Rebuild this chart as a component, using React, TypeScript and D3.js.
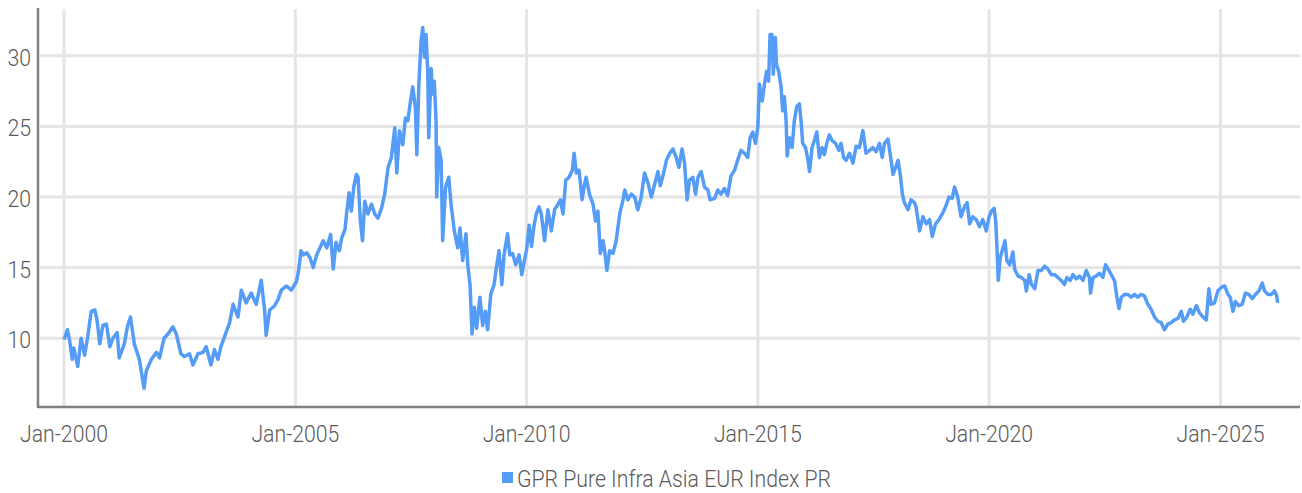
import React from 'react';
import * as d3 from 'd3';

type Pt = [string, number];

// index level, grouped by period
const data2000to2004: Pt[] = [
  ['2000-01-01', 9.9], ['2000-01-28', 10.6], ['2000-02-15', 9.8], ['2000-03-06', 8.5], ['2000-03-18', 9.3],
  ['2000-04-18', 8.0], ['2000-05-15', 10.0], ['2000-06-12', 8.8], ['2000-07-06', 10.1], ['2000-08-03', 11.9],
  ['2000-09-01', 12.0], ['2000-09-21', 11.1], ['2000-10-09', 9.6], ['2000-11-03', 10.9], ['2000-12-01', 11.0],
  ['2000-12-28', 9.4], ['2001-01-21', 10.0], ['2001-02-24', 10.4], ['2001-03-12', 8.6], ['2001-04-21', 9.6],
  ['2001-05-18', 10.9], ['2001-06-09', 11.5], ['2001-07-09', 9.6], ['2001-08-18', 8.5], ['2001-09-24', 6.45],
  ['2001-10-12', 7.7], ['2001-11-21', 8.5], ['2002-01-01', 9.0], ['2002-01-25', 8.6], ['2002-03-01', 10.0],
  ['2002-04-01', 10.3], ['2002-05-09', 10.8], ['2002-06-06', 10.3], ['2002-07-12', 8.9], ['2002-08-09', 8.7],
  ['2002-09-18', 8.9], ['2002-10-15', 8.1], ['2002-11-24', 8.9], ['2003-01-03', 9.0], ['2003-01-28', 9.4],
  ['2003-03-06', 8.1], ['2003-04-03', 9.2], ['2003-05-01', 8.5], ['2003-05-24', 9.4], ['2003-06-21', 10.1],
  ['2003-08-01', 11.1], ['2003-08-28', 12.4], ['2003-10-06', 11.5], ['2003-11-01', 13.4], ['2003-12-09', 12.5],
  ['2004-01-18', 13.2], ['2004-02-27', 12.4], ['2004-04-06', 14.1], ['2004-05-03', 12.0], ['2004-05-15', 10.2],
  ['2004-06-12', 12.0], ['2004-07-21', 12.3], ['2004-08-15', 12.7], ['2004-09-12', 13.4], ['2004-10-21', 13.7],
  ['2004-12-01', 13.4], ['2005-01-09', 14.0],
];

const data2005to2009: Pt[] = [
  ['2005-01-26', 14.75], ['2005-02-14', 16.2], ['2005-03-05', 15.9], ['2005-04-01', 16.05], ['2005-04-26', 15.7],
  ['2005-05-22', 15.0], ['2005-06-18', 15.9], ['2005-07-14', 16.4], ['2005-08-09', 16.9], ['2005-09-06', 16.4],
  ['2005-10-06', 17.35], ['2005-10-27', 14.9], ['2005-11-18', 16.8], ['2005-12-14', 16.2], ['2006-01-02', 17.1],
  ['2006-01-28', 17.7], ['2006-02-09', 18.8], ['2006-03-01', 20.3], ['2006-03-19', 19.0], ['2006-04-07', 20.7],
  ['2006-04-28', 21.6], ['2006-05-11', 21.4], ['2006-05-29', 18.3], ['2006-06-15', 16.9], ['2006-07-03', 19.7],
  ['2006-07-28', 18.8], ['2006-08-25', 19.5], ['2006-09-20', 18.8], ['2006-10-15', 18.5], ['2006-11-12', 19.2],
  ['2006-12-07', 20.2], ['2007-01-03', 22.1], ['2007-01-29', 22.8], ['2007-02-25', 24.9], ['2007-03-13', 21.7],
  ['2007-04-03', 24.7], ['2007-04-29', 23.7], ['2007-05-20', 25.6], ['2007-06-08', 25.4], ['2007-06-26', 26.6],
  ['2007-07-17', 27.8], ['2007-08-07', 26.3], ['2007-08-18', 23.0], ['2007-09-03', 28.0], ['2007-09-21', 31.1],
  ['2007-10-04', 32.0], ['2007-10-17', 29.9], ['2007-10-30', 31.5], ['2007-11-12', 28.9], ['2007-11-20', 24.2],
  ['2007-12-09', 29.1], ['2007-12-21', 27.3], ['2008-01-03', 28.2], ['2008-01-17', 25.4], ['2008-01-22', 20.0],
  ['2008-02-07', 23.5], ['2008-02-26', 22.6], ['2008-03-09', 16.9], ['2008-04-01', 20.7], ['2008-04-26', 21.4],
  ['2008-05-14', 19.5], ['2008-06-09', 17.6], ['2008-07-06', 16.4], ['2008-07-24', 17.8], ['2008-08-14', 15.5],
  ['2008-09-09', 17.4], ['2008-09-23', 15.2], ['2008-10-11', 13.8], ['2008-10-27', 10.3], ['2008-11-14', 12.2],
  ['2008-12-02', 10.7], ['2008-12-28', 12.9], ['2009-01-19', 10.9], ['2009-02-09', 11.9], ['2009-02-27', 10.6],
  ['2009-03-24', 13.1], ['2009-04-19', 13.8], ['2009-05-07', 15.0], ['2009-05-28', 16.2], ['2009-06-19', 13.8],
  ['2009-07-07', 15.9], ['2009-08-03', 17.4], ['2009-08-21', 15.9], ['2009-09-12', 16.0], ['2009-10-07', 15.2],
  ['2009-11-03', 15.9], ['2009-11-24', 14.5], ['2009-12-12', 15.4],
];

const data2010to2014: Pt[] = [
  ['2010-01-01', 16.3], ['2010-01-21', 18.0], ['2010-02-09', 16.5], ['2010-02-27', 17.9], ['2010-03-18', 18.8],
  ['2010-04-09', 19.3], ['2010-04-27', 18.8], ['2010-05-23', 16.9], ['2010-06-18', 19.1], ['2010-07-15', 17.6],
  ['2010-08-10', 19.1], ['2010-09-06', 19.5], ['2010-09-25', 19.8], ['2010-10-15', 18.8], ['2010-11-06', 21.2],
  ['2010-12-02', 21.4], ['2010-12-28', 21.9], ['2011-01-11', 23.1], ['2011-01-29', 21.7], ['2011-02-19', 21.9],
  ['2011-03-15', 19.8], ['2011-04-03', 20.9], ['2011-04-16', 21.4], ['2011-05-12', 20.2], ['2011-06-09', 19.5],
  ['2011-06-29', 18.3], ['2011-07-18', 19.0], ['2011-08-06', 16.0], ['2011-08-27', 16.9], ['2011-09-09', 16.2],
  ['2011-09-27', 14.8], ['2011-10-18', 16.2], ['2011-11-14', 16.0], ['2011-12-09', 16.9], ['2012-01-06', 18.8],
  ['2012-02-01', 19.8], ['2012-02-15', 20.5], ['2012-03-10', 19.8], ['2012-04-06', 20.2], ['2012-05-03', 20.0],
  ['2012-05-28', 19.1], ['2012-06-24', 20.0], ['2012-07-20', 21.7], ['2012-08-16', 21.0], ['2012-09-12', 20.0],
  ['2012-10-08', 20.9], ['2012-11-03', 21.8], ['2012-11-21', 20.8], ['2012-12-18', 21.7], ['2013-01-09', 22.6],
  ['2013-02-04', 23.1], ['2013-03-01', 23.4], ['2013-03-27', 22.8], ['2013-04-17', 22.1], ['2013-05-12', 23.4],
  ['2013-06-01', 22.4], ['2013-06-21', 19.8], ['2013-07-10', 21.2], ['2013-08-06', 21.4], ['2013-08-27', 20.2],
  ['2013-09-15', 21.4], ['2013-10-10', 21.8], ['2013-11-06', 20.7], ['2013-12-02', 20.5], ['2013-12-20', 19.8],
  ['2014-01-24', 19.9], ['2014-02-19', 20.5], ['2014-03-16', 20.2], ['2014-04-12', 20.6], ['2014-05-07', 20.1],
  ['2014-06-03', 21.5], ['2014-07-01', 21.9], ['2014-07-25', 22.6], ['2014-08-21', 23.3], ['2014-09-17', 23.1],
  ['2014-10-13', 22.8], ['2014-11-01', 24.2], ['2014-11-22', 24.6], ['2014-12-13', 23.8], ['2015-01-01', 25.0],
];

const data2015to2019: Pt[] = [
  ['2015-01-13', 28.0], ['2015-02-04', 26.8], ['2015-02-22', 28.0], ['2015-03-11', 28.9], ['2015-03-27', 28.2],
  ['2015-04-07', 31.5], ['2015-04-22', 31.5], ['2015-05-03', 28.7], ['2015-05-19', 31.3], ['2015-05-28', 29.4],
  ['2015-06-14', 28.9], ['2015-07-03', 27.8], ['2015-07-16', 26.1], ['2015-07-29', 27.1], ['2015-08-12', 25.4],
  ['2015-08-20', 22.9], ['2015-09-07', 24.2], ['2015-09-28', 23.5], ['2015-10-16', 25.4], ['2015-11-04', 26.4],
  ['2015-11-25', 26.6], ['2015-12-08', 25.4], ['2015-12-21', 23.8], ['2016-01-12', 23.5], ['2016-02-01', 22.6],
  ['2016-02-13', 21.8], ['2016-03-04', 23.5], ['2016-03-22', 24.0], ['2016-04-10', 24.6], ['2016-05-01', 22.8],
  ['2016-05-22', 23.5], ['2016-06-09', 23.0], ['2016-06-28', 23.8], ['2016-07-19', 24.4], ['2016-08-09', 24.0],
  ['2016-09-06', 23.8], ['2016-10-01', 23.3], ['2016-10-19', 23.8], ['2016-11-08', 22.8], ['2016-11-28', 22.6],
  ['2016-12-25', 23.1], ['2017-01-21', 22.4], ['2017-02-15', 23.6], ['2017-03-13', 23.5], ['2017-04-09', 24.7],
  ['2017-05-04', 23.1], ['2017-06-01', 23.3], ['2017-06-27', 23.5], ['2017-07-22', 23.2], ['2017-08-18', 23.8],
  ['2017-09-09', 22.8], ['2017-09-27', 23.8], ['2017-10-24', 24.1], ['2017-11-18', 22.6], ['2017-12-03', 21.6],
  ['2017-12-24', 22.1], ['2018-01-12', 22.6], ['2018-02-01', 21.4], ['2018-02-15', 20.2], ['2018-03-03', 19.6],
  ['2018-04-01', 19.1], ['2018-04-25', 19.8], ['2018-05-21', 19.6], ['2018-06-03', 19.3], ['2018-07-01', 17.6],
  ['2018-07-27', 18.6], ['2018-08-22', 18.1], ['2018-09-18', 18.4], ['2018-10-09', 17.2], ['2018-11-04', 18.1],
  ['2018-12-01', 18.4], ['2018-12-27', 18.8], ['2019-01-22', 19.3], ['2019-02-18', 20.0], ['2019-03-15', 19.9],
  ['2019-04-03', 20.7], ['2019-04-28', 20.0], ['2019-05-24', 18.6], ['2019-06-20', 19.3], ['2019-07-11', 19.6],
  ['2019-07-31', 18.1], ['2019-08-25', 18.6], ['2019-09-21', 18.4], ['2019-10-17', 17.9], ['2019-11-12', 18.4],
  ['2019-12-09', 17.6], ['2020-01-01', 18.6],
];

const data2020to2026: Pt[] = [
  ['2020-01-19', 19.0], ['2020-02-09', 19.2], ['2020-02-22', 18.3], ['2020-03-03', 16.4], ['2020-03-13', 14.1],
  ['2020-03-29', 15.7], ['2020-04-19', 16.4], ['2020-05-05', 16.9], ['2020-05-20', 15.5], ['2020-06-11', 15.2],
  ['2020-07-07', 16.1], ['2020-07-20', 14.9], ['2020-08-16', 14.4], ['2020-09-12', 14.3], ['2020-10-08', 14.1],
  ['2020-10-21', 13.35], ['2020-11-12', 14.5], ['2020-12-01', 13.8], ['2020-12-26', 13.5], ['2021-01-21', 14.8],
  ['2021-02-17', 14.8], ['2021-03-13', 15.1], ['2021-04-09', 14.9], ['2021-05-06', 14.5], ['2021-06-01', 14.5],
  ['2021-06-27', 14.3], ['2021-07-23', 14.1], ['2021-08-18', 13.8], ['2021-09-06', 14.3], ['2021-10-03', 14.1],
  ['2021-10-24', 14.5], ['2021-11-19', 14.2], ['2021-12-15', 14.4], ['2022-01-12', 14.1], ['2022-02-06', 14.8],
  ['2022-03-03', 14.3], ['2022-03-12', 13.2], ['2022-04-01', 14.3], ['2022-04-25', 14.4], ['2022-05-21', 14.6],
  ['2022-06-17', 14.3], ['2022-07-08', 15.2], ['2022-08-04', 14.8], ['2022-08-22', 14.5], ['2022-09-18', 14.05],
  ['2022-10-06', 12.9], ['2022-10-22', 12.1], ['2022-11-10', 12.9], ['2022-12-06', 13.1], ['2023-01-01', 13.1],
  ['2023-01-28', 12.9], ['2023-02-23', 13.1], ['2023-03-19', 12.9], ['2023-04-15', 13.1], ['2023-05-11', 13.0],
  ['2023-06-07', 12.4], ['2023-07-03', 12.05], ['2023-07-30', 11.5], ['2023-08-25', 11.2], ['2023-09-21', 11.1],
  ['2023-10-16', 10.6], ['2023-11-12', 11.0], ['2023-12-08', 11.1], ['2024-01-04', 11.3], ['2024-01-31', 11.4],
  ['2024-02-27', 11.9], ['2024-03-15', 11.2], ['2024-04-10', 11.5], ['2024-05-07', 12.05], ['2024-05-28', 11.7],
  ['2024-06-24', 12.3], ['2024-07-19', 11.8], ['2024-08-15', 11.5], ['2024-09-11', 11.3], ['2024-10-01', 13.5],
  ['2024-10-19', 12.4], ['2024-11-15', 12.5], ['2024-12-11', 13.35], ['2025-01-07', 13.6], ['2025-02-03', 13.7],
  ['2025-03-01', 13.1], ['2025-03-19', 12.9], ['2025-04-09', 11.9], ['2025-04-29', 12.6], ['2025-05-25', 12.3],
  ['2025-06-21', 12.4], ['2025-07-17', 13.2], ['2025-08-13', 13.1], ['2025-09-09', 12.8], ['2025-10-04', 13.1],
  ['2025-10-31', 13.35], ['2025-11-27', 13.9], ['2025-12-15', 13.35], ['2026-01-10', 13.1], ['2026-02-06', 13.1],
  ['2026-03-03', 13.35], ['2026-03-21', 13.0], ['2026-03-28', 12.5],
];

const seriesName = 'GPR Pure Infra Asia EUR Index PR';
const yTicks = [10, 15, 20, 25, 30];
const xTickYears = [2000, 2005, 2010, 2015, 2020, 2025];

const LINE = '#559cf6';
const GRID = '#e5e5e5';
const AXIS = '#808080';
const TEXT = '#5a5a5a';
const FONT = 'Roboto, "Noto Sans", sans-serif';
const SQUEEZE = 0.885; // reference uses a condensed face

export default function App() {
  const W = 1302, H = 493;
  const left = 38, right = 1300, top = 8, bottom = 407;
  const parse = d3.timeParse('%Y-%m-%d');
  const fmt = d3.timeFormat('%b-%Y');

  const points = [...data2000to2004, ...data2005to2009, ...data2010to2014, ...data2015to2019, ...data2020to2026]
    .map(([d, v]) => ({ date: parse(d) as Date, value: v }));

  const x = d3.scaleTime()
    .domain([new Date(2000, 0, 1), new Date(2025, 0, 1)])
    .range([64, 1220.5]);
  const y = d3.scaleLinear().domain([10, 30]).range([338.2, 55.8]);

  const line = d3.line<{ date: Date; value: number }>()
    .x(d => x(d.date))
    .y(d => y(d.value));

  const xTicks = xTickYears.map(yr => new Date(yr, 0, 1));

  return (
    <svg width={W} height={H} style={{ position: 'absolute', left: 0, top: 0 }}>
      <rect width={W} height={H} fill="#fff" />
      {yTicks.map(t => (
        <line key={'gy' + t} x1={left + 2} x2={right} y1={y(t)} y2={y(t)} stroke={GRID} strokeWidth={3} />
      ))}
      {xTicks.map(t => (
        <line key={'gx' + t.getFullYear()} x1={x(t)} x2={x(t)} y1={top + 1} y2={bottom} stroke={GRID} strokeWidth={3} />
      ))}

      <path d={line(points) || ''} fill="none" stroke={LINE} strokeWidth={3.5} strokeLinejoin="round" />

      <line x1={left} x2={left} y1={top} y2={bottom + 1} stroke={AXIS} strokeWidth={2.5} />
      <line x1={left} x2={right} y1={bottom} y2={bottom} stroke={AXIS} strokeWidth={2.5} />

      {yTicks.map(t => (
        <g key={'ly' + t} transform={`translate(31, ${y(t) + 10}) scale(${SQUEEZE}, 1)`}>
          <text textAnchor="end" fontFamily={FONT} fontWeight={300} fontSize={24} fill={TEXT}>{t}</text>
        </g>
      ))}
      {xTicks.map(t => (
        <g key={'lx' + t.getFullYear()} transform={`translate(${x(t)}, 442) scale(${SQUEEZE}, 1)`}>
          <text textAnchor="middle" fontFamily={FONT} fontWeight={300} fontSize={24} fill={TEXT}>{fmt(t)}</text>
        </g>
      ))}

      <rect x={502} y={472} width={11} height={11} fill={LINE} />
      <g transform={`translate(517, 487) scale(${SQUEEZE}, 1)`}>
        <text fontFamily={FONT} fontWeight={300} fontSize={24} fill={TEXT}>{seriesName}</text>
      </g>
    </svg>
  );
}
